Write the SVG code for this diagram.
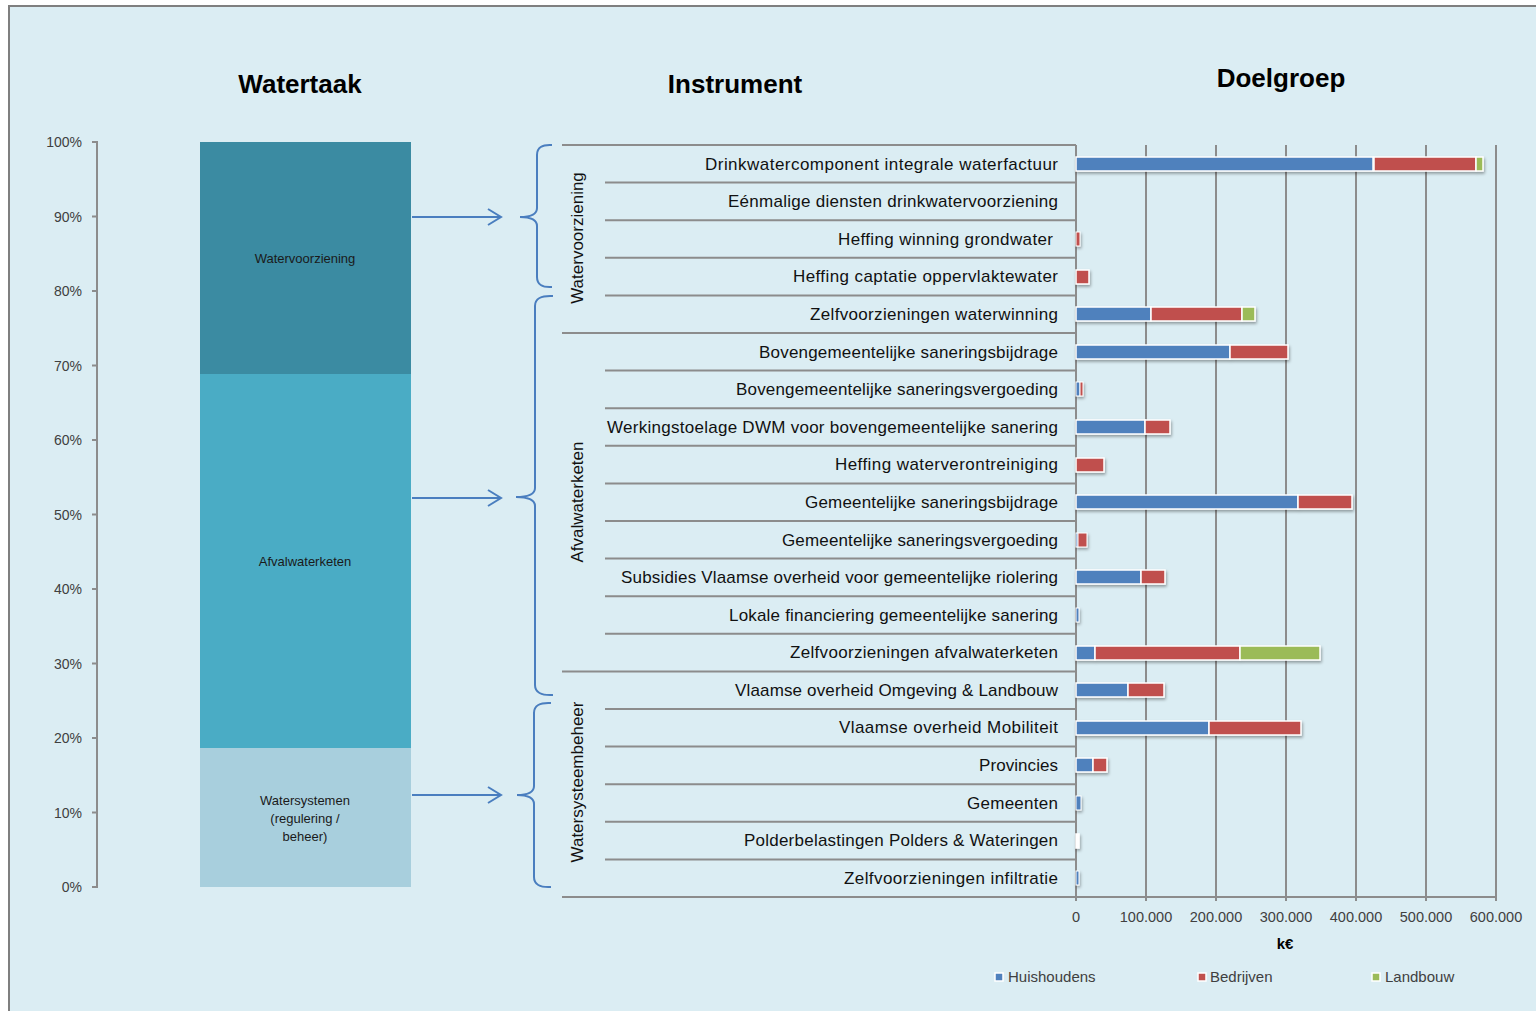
<svg xmlns="http://www.w3.org/2000/svg" width="1536" height="1011" viewBox="0 0 1536 1011">
<defs>
<style>
.t{font-family:"Liberation Sans",Arial,sans-serif;}
.title{font-size:26px;font-weight:bold;fill:#000;text-anchor:middle;}
.ax{font-size:14px;fill:#404040;}
.tk{font-size:14.5px;fill:#404040;}
.seg{font-size:13px;fill:#1a1a1a;text-anchor:middle;}
.row{font-size:17px;fill:#111;text-anchor:end;}
.grp{font-size:17px;fill:#111;text-anchor:middle;}
.leg{font-size:15px;fill:#404040;}
.gl{stroke:#8c8c8c;stroke-width:2;fill:none;}
.brace{stroke:#4a7ebf;stroke-width:2;fill:none;}
.b{fill:#4f81bd;stroke:#fff;stroke-width:1.5;}
.r{fill:#c0504d;stroke:#fff;stroke-width:1.5;}
.g{fill:#9bbb59;stroke:#fff;stroke-width:1.5;}
.w{fill:#fff;stroke:#fff;stroke-width:1.5;}
.thin{stroke-width:1;}
</style>
<marker id="chev" markerWidth="16" markerHeight="18" refX="14" refY="9" orient="auto" markerUnits="userSpaceOnUse">
<path d="M1,1 L14,9 L1,17" fill="none" stroke="#4a7ebf" stroke-width="2"/>
</marker>
<filter id="sh" x="-5%" y="-50%" width="110%" height="200%">
<feDropShadow dx="1" dy="2" stdDeviation="1.5" flood-color="#000" flood-opacity="0.35"/>
</filter>
</defs>
<rect x="0" y="0" width="1536" height="1011" fill="#fff"/>
<rect x="9" y="6" width="1540" height="1020" fill="#dbedf3" stroke="#7f7f7f" stroke-width="2"/>

<g id="titles" class="t">
<text class="t title" x="300" y="93">Watertaak</text>
<text class="t title" x="735" y="93">Instrument</text>
<text class="t title" x="1281" y="87">Doelgroep</text>
</g>

<g id="left-axis" class="t">
<path class="gl" d="M92,142 H97 V887 H92 M92,216.5 H97 M92,291 H97 M92,365.5 H97 M92,440 H97 M92,514.5 H97 M92,589 H97 M92,663.5 H97 M92,738 H97 M92,812.5 H97"/>
<g class="ax" text-anchor="end">
<text x="82" y="147">100%</text>
<text x="82" y="222">90%</text>
<text x="82" y="296">80%</text>
<text x="82" y="371">70%</text>
<text x="82" y="445">60%</text>
<text x="82" y="520">50%</text>
<text x="82" y="594">40%</text>
<text x="82" y="669">30%</text>
<text x="82" y="743">20%</text>
<text x="82" y="818">10%</text>
<text x="82" y="892">0%</text>
</g>
</g>

<g id="watertaak-watervoorziening">
<rect x="200" y="142" width="211" height="232" fill="#3b8ba2"/>
<text class="t seg" x="305" y="263">Watervoorziening</text>
</g>
<g id="watertaak-afvalwaterketen">
<rect x="200" y="374" width="211" height="374" fill="#4aacc5"/>
<text class="t seg" x="305" y="566">Afvalwaterketen</text>
</g>
<g id="watertaak-watersystemen">
<rect x="200" y="748" width="211" height="139" fill="#a8cfdd"/>
<text class="t seg" x="305" y="805">Watersystemen</text>
<text class="t seg" x="305" y="823">(regulering /</text>
<text class="t seg" x="305" y="841">beheer)</text>
</g>

<g id="connectors">
<line x1="412" y1="217" x2="501" y2="217" stroke="#4a7ebf" stroke-width="2" marker-end="url(#chev)"/>
<line x1="412" y1="498" x2="501" y2="498" stroke="#4a7ebf" stroke-width="2" marker-end="url(#chev)"/>
<line x1="412" y1="795" x2="501" y2="795" stroke="#4a7ebf" stroke-width="2" marker-end="url(#chev)"/>
</g>

<g id="brace-watervoorziening">
<path class="brace" d="M552,145 Q537,144 537,155 L537,208 Q537,217 520,217 Q537,217 537,226 L537,277 Q537,288 552,287"/>
<text class="t grp" transform="translate(583,238) rotate(-90)">Watervoorziening</text>
</g>
<g id="brace-afvalwaterketen">
<path class="brace" d="M553,296 Q535,295 535,306 L535,488 Q535,497 516,497 Q535,497 535,506 L535,685 Q535,696 553,695"/>
<text class="t grp" transform="translate(583,502) rotate(-90)">Afvalwaterketen</text>
</g>
<g id="brace-watersysteembeheer">
<path class="brace" d="M551,703 Q534,702 534,713 L534,786 Q534,795 517,795 Q534,795 534,804 L534,877 Q534,888 551,887"/>
<text class="t grp" transform="translate(583,782) rotate(-90)">Watersysteembeheer</text>
</g>

<g id="table-lines">
<path class="gl" d="M562,145 H1076 M605,182.6 H1076 M605,220.2 H1076 M605,257.8 H1076 M605,295.4 H1076 M562,333 H1076 M605,370.6 H1076 M605,408.2 H1076 M605,445.8 H1076 M605,483.4 H1076 M605,521 H1076 M605,558.6 H1076 M605,596.2 H1076 M605,633.8 H1076 M562,671.4 H1076 M605,709 H1076 M605,746.6 H1076 M605,784.2 H1076 M605,821.8 H1076 M605,859.4 H1076 M562,897 H1496"/>
<path class="gl" d="M1076,145 V901 M1146,145 V901 M1216,145 V901 M1286,145 V901 M1356,145 V901 M1426,145 V901 M1496,145 V901"/>
</g>

<g id="row-labels" class="t">
<text class="t row" x="1058" y="169.5" textLength="353">Drinkwatercomponent integrale waterfactuur</text>
<text class="t row" x="1058" y="207" textLength="330">Eénmalige diensten drinkwatervoorziening</text>
<text class="t row" x="1053" y="244.5" textLength="215">Heffing winning grondwater</text>
<text class="t row" x="1058" y="282" textLength="265">Heffing captatie oppervlaktewater</text>
<text class="t row" x="1058" y="320" textLength="248">Zelfvoorzieningen waterwinning</text>
<text class="t row" x="1058" y="357.5" textLength="299">Bovengemeentelijke saneringsbijdrage</text>
<text class="t row" x="1058" y="395" textLength="322">Bovengemeentelijke saneringsvergoeding</text>
<text class="t row" x="1058" y="432.5" textLength="451">Werkingstoelage DWM voor bovengemeentelijke sanering</text>
<text class="t row" x="1058" y="470" textLength="223">Heffing waterverontreiniging</text>
<text class="t row" x="1058" y="508" textLength="253">Gemeentelijke saneringsbijdrage</text>
<text class="t row" x="1058" y="545.5" textLength="276">Gemeentelijke saneringsvergoeding</text>
<text class="t row" x="1058" y="583" textLength="437">Subsidies Vlaamse overheid voor gemeentelijke riolering</text>
<text class="t row" x="1058" y="620.5" textLength="329">Lokale financiering gemeentelijke sanering</text>
<text class="t row" x="1058" y="658" textLength="268">Zelfvoorzieningen afvalwaterketen</text>
<text class="t row" x="1058" y="695.5" textLength="323">Vlaamse overheid Omgeving &amp; Landbouw</text>
<text class="t row" x="1058" y="733" textLength="219">Vlaamse overheid Mobiliteit</text>
<text class="t row" x="1058" y="771" textLength="79">Provincies</text>
<text class="t row" x="1058" y="808.5" textLength="91">Gemeenten</text>
<text class="t row" x="1058" y="846" textLength="314">Polderbelastingen Polders &amp; Wateringen</text>
<text class="t row" x="1058" y="883.5" textLength="214">Zelfvoorzieningen infiltratie</text>
</g>

<g id="bars" filter="url(#sh)">
<rect class="b" x="1076" y="157" width="297" height="14"/><rect class="r" x="1374" y="157" width="102" height="14"/><rect class="g" x="1476" y="157" width="7" height="14"/>
<rect class="r thin" x="1076" y="232" width="4" height="14"/>
<rect class="r" x="1076" y="270" width="13" height="14"/>
<rect class="b" x="1076" y="307" width="75" height="14"/><rect class="r" x="1151" y="307" width="91" height="14"/><rect class="g" x="1242" y="307" width="13" height="14"/>
<rect class="b" x="1076" y="345" width="154" height="14"/><rect class="r" x="1230" y="345" width="58" height="14"/>
<rect class="b thin" x="1076" y="382" width="4" height="14"/><rect class="r thin" x="1080" y="382" width="3" height="14"/>
<rect class="b" x="1076" y="420" width="69" height="14"/><rect class="r" x="1145" y="420" width="25" height="14"/>
<rect class="r" x="1076" y="458" width="28" height="14"/>
<rect class="b" x="1076" y="495" width="222" height="14"/><rect class="r" x="1298" y="495" width="54" height="14"/>
<rect class="b thin" x="1076" y="533" width="2" height="14"/><rect class="r thin" x="1078" y="533" width="9" height="14"/>
<rect class="b" x="1076" y="570" width="65" height="14"/><rect class="r" x="1141" y="570" width="24" height="14"/>
<rect class="b thin" x="1076" y="608" width="3" height="14"/>
<rect class="b" x="1076" y="646" width="19" height="14"/><rect class="r" x="1095" y="646" width="145" height="14"/><rect class="g" x="1240" y="646" width="80" height="14"/>
<rect class="b" x="1076" y="683" width="52" height="14"/><rect class="r" x="1128" y="683" width="36" height="14"/>
<rect class="b" x="1076" y="721" width="133" height="14"/><rect class="r" x="1209" y="721" width="92" height="14"/>
<rect class="b" x="1076" y="758" width="17" height="14"/><rect class="r" x="1093" y="758" width="14" height="14"/>
<rect class="b thin" x="1076" y="796" width="5" height="14"/>
<rect class="w" x="1076" y="834" width="3" height="14"/>
<rect class="b thin" x="1076" y="871" width="3" height="14"/>
</g>

<g id="x-axis" class="t">
<g class="tk" text-anchor="middle">
<text x="1076" y="922">0</text>
<text x="1146" y="922">100.000</text>
<text x="1216" y="922">200.000</text>
<text x="1286" y="922">300.000</text>
<text x="1356" y="922">400.000</text>
<text x="1426" y="922">500.000</text>
<text x="1496" y="922">600.000</text>
</g>
<text x="1285" y="949" font-size="15" font-weight="bold" text-anchor="middle" fill="#000">k€</text>
</g>

<g id="legend" class="t">
<rect class="b" x="995" y="973" width="8" height="8" stroke-width="1"/>
<text class="t leg" x="1008" y="982">Huishoudens</text>
<rect class="r" x="1198" y="973" width="8" height="8" stroke-width="1"/>
<text class="t leg" x="1210" y="982">Bedrijven</text>
<rect class="g" x="1372" y="973" width="8" height="8" stroke-width="1"/>
<text class="t leg" x="1385" y="982">Landbouw</text>
</g>
</svg>
